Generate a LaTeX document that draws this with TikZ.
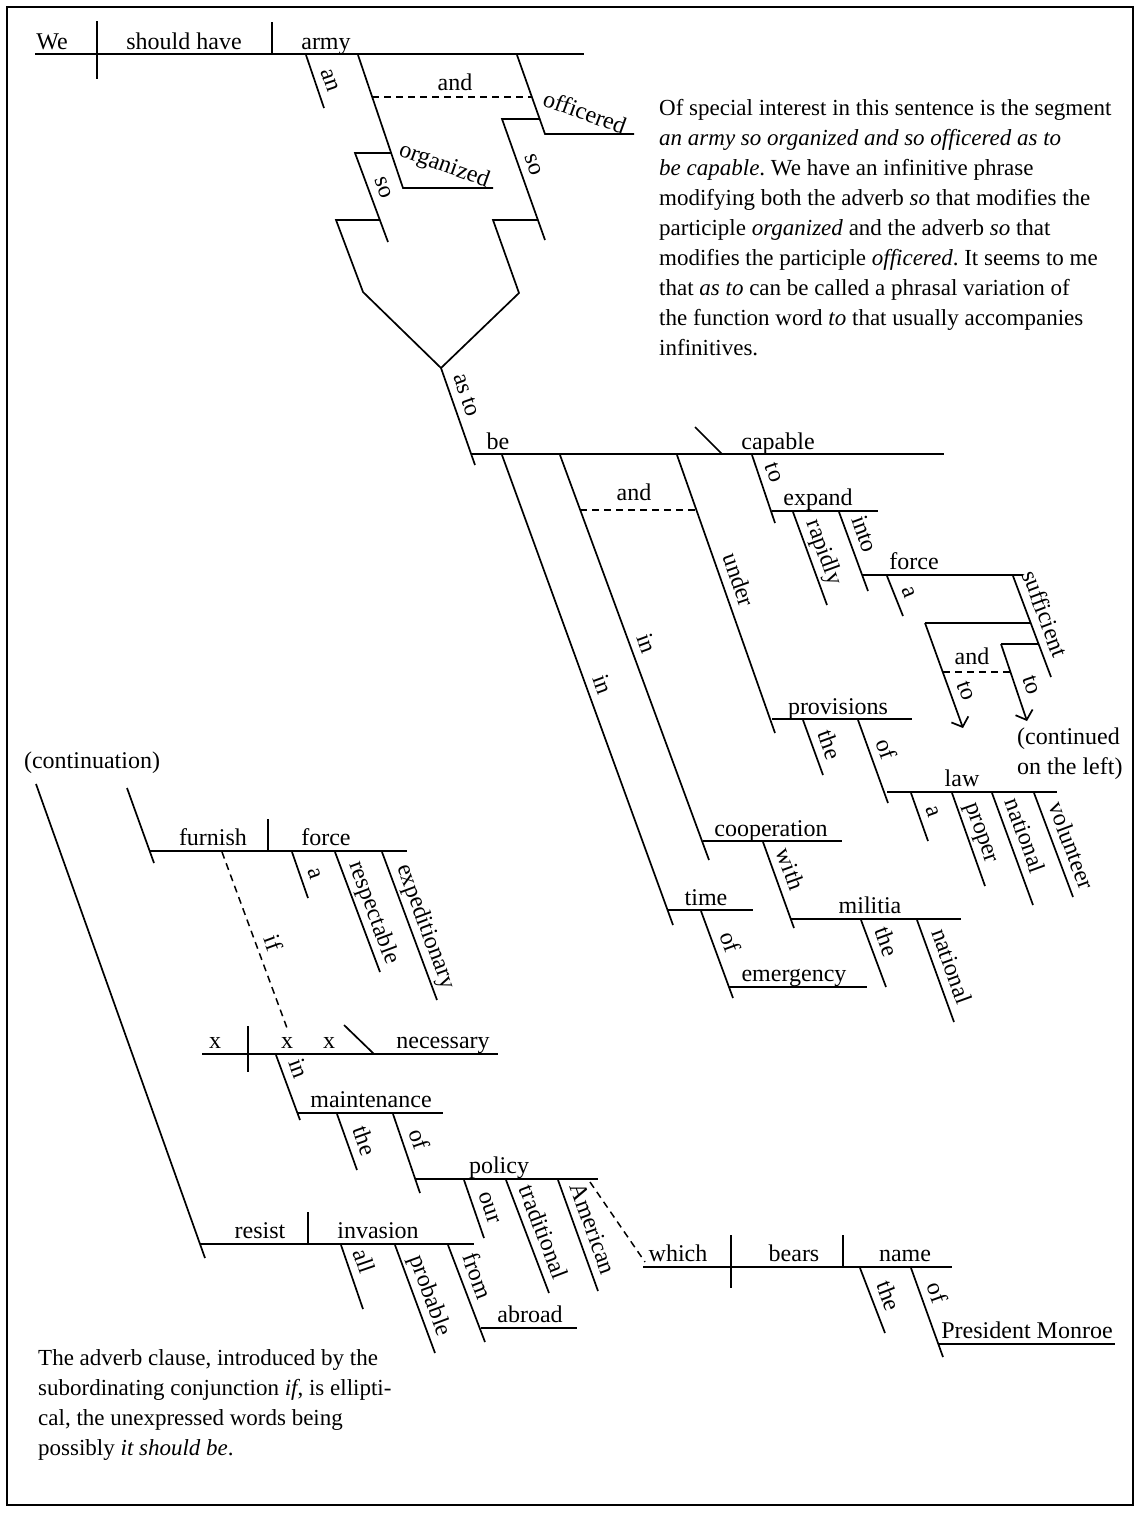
\documentclass[tikz,border=0pt]{standalone}
\usepackage{fontspec}
\setmainfont{Liberation Serif}
\usetikzlibrary{arrows.meta}
\tikzset{
  ln/.style={line width=1.7pt},
  dsh/.style={line width=1.5pt, dash pattern=on 7pt off 5pt},
  w/.style={font=\fontsize{24}{28}\selectfont, inner sep=1pt},
  hw/.style={w, anchor=base},
  lab/.style={w, sloped, anchor=south, inner xsep=0pt, inner ysep=8pt, text depth=0pt},
  para/.style={font=\fontsize{23}{30}\selectfont\frenchspacing, anchor=base west, inner sep=0pt},
  arr/.style={ln, -{Straight Barb[length=8pt,width=18pt]}},
}
\begin{document}
\begin{tikzpicture}[x=1pt,y=-1pt]
\useasboundingbox (0,0) rectangle (1141,1513);
\draw[line width=2pt] (7,7) rectangle (1133,1505);

% ---------- top clause
\draw[ln] (35,54) -- (584,54);
\draw[ln] (97,21) -- (97,79);
\draw[ln] (272,22) -- (272,54);
\node[hw] (We) at (52,49) {We};
\node[hw] (shouldhave) at (184,49) {should have};
\node[hw] (army) at (326,49) {army};
\draw[ln] (306,55) -- node[lab,pos=0.56] (an) {an} (324,108);
\draw[ln] (358,55) -- (403,188) -- (493,188);
\node[w,rotate=-20] (organized) at (444,166) {organized};
\draw[ln] (517,55) -- (545,134) -- (634,134);
\node[w,rotate=-20] (officered) at (585,112) {officered};
\draw[dsh] (372,97) -- (532,97);
\node[hw] (and1) at (455,90) {and};
\draw[ln] (391,153) -- (355,153) -- node[lab,pos=0.45] (so1) {so} (388,242);
\draw[ln] (380,220) -- (336,220) -- (363,292) -- (441,368);
\draw[ln] (540,119) -- (502,119) -- node[lab,pos=0.42] (so2) {so} (545,240);
\draw[ln] (538,220) -- (493,220) -- (519,293) -- (441,368);
\draw[ln] (441,368) -- node[lab,pos=0.33] (asto) {as to} (475,465);

% ---------- be
\draw[ln] (472,454) -- (944,454);
\node[hw] (be) at (498,449) {be};
\node[hw] (capable) at (778,449) {capable};
\draw[ln] (695,427) -- (722,454);
\draw[ln] (502,455) -- node[lab,pos=0.5] (in1) {in} (673,925);
\draw[ln] (668,910) -- (753,910);
\node[hw] (time) at (706,905) {time};
\draw[ln] (560,455) -- node[lab,pos=0.48] (in2) {in} (709,860);
\draw[ln] (703,841) -- (842,841);
\node[hw] (cooperation) at (771,836) {cooperation};
\draw[dsh] (580,510) -- (697,510);
\node[hw] (and2) at (634,500) {and};
\draw[ln] (677,455) -- node[lab,pos=0.47] (under) {under} (775,733);
\draw[ln] (772,719) -- (912,719);
\node[hw] (provisions) at (838,714) {provisions};
\draw[ln] (752,455) -- node[lab,pos=0.33] (to1) {to} (775,523);
\draw[ln] (772,511) -- (878,511);
\node[hw] (expand) at (818,505) {expand};
\draw[ln] (793,512) -- node[lab,pos=0.49] (rapidly) {rapidly} (827,605);
\draw[ln] (839,512) -- node[lab,pos=0.35] (into) {into} (868,591);
\draw[ln] (863,575) -- (1023,575);
\node[hw] (force1) at (914,569) {force};
\draw[ln] (887,576) -- node[lab,pos=0.54] (a1) {a} (903,616);
\draw[ln] (1013,576) -- node[lab,pos=0.43] (sufficient) {sufficient} (1051,677);
\draw[ln] (1031,623) -- (925,623);
\draw[arr] (925,623) -- node[lab,pos=0.7] (to2) {to} (963,728);
\draw[ln] (1039,644) -- (1001,644);
\draw[arr] (1001,644) -- node[lab,pos=0.6] (to3) {to} (1027,721);
\draw[dsh] (943,672) -- (1010,672);
\node[hw] (and3) at (972,664) {and};
\node[w,anchor=base west,inner sep=0pt] (cont1) at (1017,744) {(continued};
\node[w,anchor=base west,inner sep=0pt] (cont2) at (1017,774) {on the left)};
\draw[ln] (803,720) -- node[lab,pos=0.55] (the1) {the} (823,775);
\draw[ln] (858,720) -- node[lab,pos=0.42] (of1) {of} (888,803);
\draw[ln] (887,792) -- (1057,792);
\node[hw] (law) at (962,786) {law};
\draw[ln] (911,793) -- node[lab,pos=0.49] (a2) {a} (928,841);
\draw[ln] (952,793) -- node[lab,pos=0.48] (proper) {proper} (985,886);
\draw[ln] (992,793) -- node[lab,pos=0.43] (national1) {national} (1033,905);
\draw[ln] (1034,793) -- node[lab,pos=0.56] (volunteer) {volunteer} (1073,897);
\draw[ln] (763,842) -- node[lab,pos=0.38] (with) {with} (794,928);
\draw[ln] (790,919) -- (961,919);
\node[hw] (militia) at (870,913) {militia};
\draw[ln] (861,920) -- node[lab,pos=0.41] (the2) {the} (886,987);
\draw[ln] (917,920) -- node[lab,pos=0.51] (national2) {national} (954,1022);
\draw[ln] (701,911) -- node[lab,pos=0.42] (of2) {of} (733,998);
\draw[ln] (729,987) -- (867,987);
\node[hw] (emergency) at (794,981) {emergency};

% ---------- continuation (left)
\node[w] (continuation) at (92,763) {(continuation)};
\draw[ln] (36,784) -- (205,1258);
\draw[ln] (200,1244) -- (474,1244);
\draw[ln] (308,1212) -- (308,1244);
\node[hw] (resist) at (260,1238) {resist};
\node[hw] (invasion) at (378,1238) {invasion};
\draw[ln] (127,788) -- (154,863);
\draw[ln] (150,851) -- (407,851);
\draw[ln] (268,819) -- (268,851);
\node[hw] (furnish) at (213,845) {furnish};
\node[hw] (force2) at (326,845) {force};
\draw[ln] (292,852) -- node[lab,pos=0.58] (a3) {a} (308,898);
\draw[ln] (335,852) -- node[lab,pos=0.55] (respectable) {respectable} (380,972);
\draw[ln] (382,852) -- node[lab,pos=0.54] (expeditionary) {expeditionary} (437,1000);
\draw[dsh] (222,852) -- node[lab,pos=0.55] (if) {if} (287,1028);
\draw[ln] (202,1054) -- (498,1054);
\draw[ln] (248,1026) -- (248,1072);
\node[hw] (x1) at (215,1048) {x};
\node[hw] (x2) at (287,1048) {x};
\node[hw] (x3) at (329,1048) {x};
\draw[ln] (344,1025) -- (374,1054);
\node[hw] (necessary) at (443,1048) {necessary};
\draw[ln] (276,1055) -- node[lab,pos=0.3] (in3) {in} (300,1120);
\draw[ln] (297,1113) -- (443,1113);
\node[hw] (maintenance) at (371,1107) {maintenance};
\draw[ln] (337,1114) -- node[lab,pos=0.58] (the3) {the} (357,1170);
\draw[ln] (393,1114) -- node[lab,pos=0.39] (of3) {of} (420,1193);
\draw[ln] (415,1179) -- (598,1179);
\node[hw] (policy) at (499,1173) {policy};
\draw[ln] (464,1180) -- node[lab,pos=0.56] (our) {our} (484,1238);
\draw[ln] (506,1180) -- node[lab,pos=0.51] (traditional) {traditional} (549,1293);
\draw[ln] (558,1180) -- node[lab,pos=0.49] (American) {American} (598,1291);
\draw[dsh] (590,1182) -- (645,1262);
\draw[ln] (643,1267) -- (952,1267);
\draw[ln] (731,1235) -- (731,1288);
\draw[ln] (843,1235) -- (843,1267);
\node[hw] (which) at (678,1261) {which};
\node[hw] (bears) at (794,1261) {bears};
\node[hw] (name) at (905,1261) {name};
\draw[ln] (860,1268) -- node[lab,pos=0.52] (the4) {the} (885,1333);
\draw[ln] (911,1268) -- node[lab,pos=0.34] (of4) {of} (943,1357);
\draw[ln] (938,1344) -- (1115,1344);
\node[hw] (monroe) at (1027,1338) {President Monroe};
\draw[ln] (341,1245) -- node[lab,pos=0.34] (all) {all} (363,1309);
\draw[ln] (395,1245) -- node[lab,pos=0.52] (probable) {probable} (435,1353);
\draw[ln] (448,1245) -- node[lab,pos=0.38] (from) {from} (485,1342);
\draw[ln] (481,1328) -- (577,1328);
\node[hw] (abroad) at (530,1322) {abroad};

% ---------- commentary
\node[para] (p1) at (659,115) {Of special interest in this sentence is the segment};
\node[para] (p2) at (659,145) {\textit{an army so organized and so officered as to}};
\node[para] (p3) at (659,175) {\textit{be capable}. We have an infinitive phrase};
\node[para] (p4) at (659,205) {modifying both the adverb \textit{so} that modifies the};
\node[para] (p5) at (659,235) {participle \textit{organized} and the adverb \textit{so} that};
\node[para] (p6) at (659,265) {modifies the participle \textit{officered}. It seems to me};
\node[para] (p7) at (659,295) {that \textit{as to} can be called a phrasal variation of};
\node[para] (p8) at (659,325) {the function word \textit{to} that usually accompanies};
\node[para] (p9) at (659,355) {infinitives.};

\node[para] (q1) at (38,1365) {The adverb clause, introduced by the};
\node[para] (q2) at (38,1395) {subordinating conjunction \textit{if}, is ellipti-};
\node[para] (q3) at (38,1425) {cal, the unexpressed words being};
\node[para] (q4) at (38,1455) {possibly \textit{it should be}.};
\end{tikzpicture}
\end{document}
